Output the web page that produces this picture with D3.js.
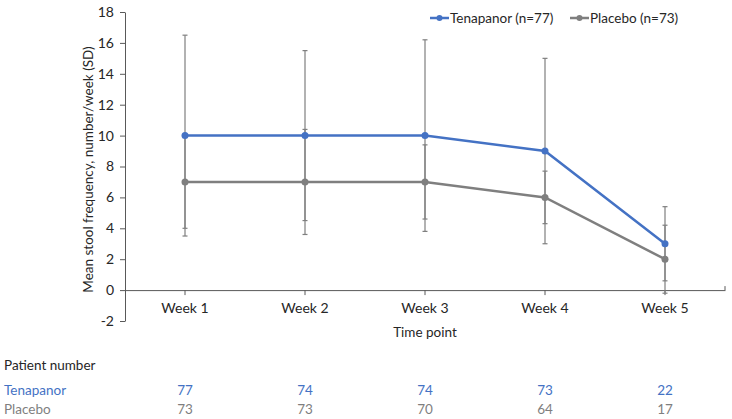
<!DOCTYPE html>
<html>
<head>
<meta charset="utf-8">
<script src="https://cdn.jsdelivr.net/npm/d3@7/dist/d3.min.js"></script>
<style>
  html, body { margin: 0; padding: 0; background: #fff; }
  svg { display: block; }
  text { font-family: Lato, "Open Sans", sans-serif; }
</style>
</head>
<body>
<svg id="chart" width="732" height="419"></svg>
<script>
const categories = ["Week 1", "Week 2", "Week 3", "Week 4", "Week 5"];
const tenapanorMean = [10, 10, 10, 9, 3];
const tenapanorSD = [6.5, 5.5, 6.2, 6.0, 2.4];
const placeboMean = [7, 7, 7, 6, 2];
const placeboSD = [3.0, 3.4, 2.4, 1.7, 2.2];
const tenapanorN = [77, 74, 74, 73, 22];
const placeboN = [73, 73, 70, 64, 17];
const yTicks = [-2, 0, 2, 4, 6, 8, 10, 12, 14, 16, 18];
const seriesNames = ["Tenapanor (n=77)", "Placebo (n=73)"];

const blue = "#4472c4";
const gray = "#7f7f7f";
const textColor = "#262626";

const svg = d3.select("#chart");
const mLeft = 125, mRight = 725, mTop = 12, mBottom = 321;

const x = d3.scaleBand().domain(categories).range([mLeft, mRight]);
const y = d3.scaleLinear().domain([-2, 18]).range([mBottom, mTop]);
const cx = d => x(d) + x.bandwidth() / 2;

// Y axis
const yAxis = d3.axisLeft(y).tickValues(yTicks).tickFormat(d => String(d)).tickSize(5).tickSizeOuter(0);
const yg = svg.append("g").attr("transform", `translate(${mLeft},0)`).call(yAxis);
yg.select(".domain").attr("stroke", "#595959");
yg.selectAll(".tick line").attr("stroke", "#595959");
yg.selectAll(".tick text").attr("fill", textColor).attr("font-size", 14).attr("x", -11);

// X axis at y=0
const xAxis = d3.axisBottom(x).tickSize(5).tickSizeOuter(0);
const xg = svg.append("g").attr("transform", `translate(0,${y(0)})`).call(xAxis);
xg.select(".domain").attr("stroke", "#595959");
xg.selectAll(".tick line").attr("stroke", "#595959");
xg.selectAll(".tick text").attr("fill", textColor).attr("font-size", 14).attr("dy", "1.05em");
xg.append("line").attr("x1", mRight).attr("x2", mRight).attr("y1", 0).attr("y2", -4).attr("stroke", "#595959");

// Axis titles
svg.append("text")
  .attr("transform", `translate(93,${(mTop + mBottom) / 2 + 3}) rotate(-90)`)
  .attr("text-anchor", "middle").attr("font-size", 13.5).attr("fill", textColor)
  .text("Mean stool frequency, number/week (SD)");
svg.append("text").attr("x", (mLeft + mRight) / 2).attr("y", 337)
  .attr("text-anchor", "middle").attr("font-size", 13.5).attr("fill", textColor)
  .text("Time point");

const series = [
  { name: seriesNames[0], mean: tenapanorMean, sd: tenapanorSD, color: blue },
  { name: seriesNames[1], mean: placeboMean, sd: placeboSD, color: gray }
];

// Error bars
series.forEach(s => {
  const g = svg.append("g");
  categories.forEach((c, i) => {
    const hi = s.mean[i] + s.sd[i], lo = s.mean[i] - s.sd[i];
    g.append("line").attr("x1", cx(c)).attr("x2", cx(c))
      .attr("y1", y(hi)).attr("y2", y(lo)).attr("stroke", gray).attr("stroke-width", 1.2);
    [hi, lo].forEach(v => {
      g.append("line").attr("x1", cx(c) - 2.5).attr("x2", cx(c) + 2.5)
        .attr("y1", y(v)).attr("y2", y(v)).attr("stroke", gray).attr("stroke-width", 1.2);
    });
  });
});

// Lines + markers (placebo first, tenapanor on top)
[series[1], series[0]].forEach(s => {
  const line = d3.line().x((d, i) => cx(categories[i])).y(d => y(d));
  svg.append("path").datum(s.mean).attr("d", line)
    .attr("fill", "none").attr("stroke", s.color).attr("stroke-width", 2.5);
  svg.selectAll(null).data(s.mean).enter().append("circle")
    .attr("cx", (d, i) => cx(categories[i])).attr("cy", d => y(d))
    .attr("r", 3.5).attr("fill", s.color);
});

// Legend
const legendItems = [{ x: 430, s: series[0] }, { x: 570, s: series[1] }];
legendItems.forEach(li => {
  svg.append("line").attr("x1", li.x).attr("x2", li.x + 19).attr("y1", 18).attr("y2", 18)
    .attr("stroke", li.s.color).attr("stroke-width", 2.5);
  svg.append("circle").attr("cx", li.x + 9.5).attr("cy", 18).attr("r", 3).attr("fill", li.s.color);
  svg.append("text").attr("x", li.x + 20).attr("y", 23).attr("font-size", 13.5)
    .attr("fill", textColor).text(li.s.name);
});

// Patient number table
svg.append("text").attr("x", 4).attr("y", 370).attr("font-size", 13.5).attr("fill", textColor)
  .text("Patient number");
const rows = [
  { label: "Tenapanor", vals: tenapanorN, color: blue, y: 395 },
  { label: "Placebo", vals: placeboN, color: gray, y: 414 }
];
rows.forEach(r => {
  svg.append("text").attr("x", 4).attr("y", r.y).attr("font-size", 13.5).attr("fill", r.color).text(r.label);
  svg.selectAll(null).data(r.vals).enter().append("text")
    .attr("x", (d, i) => cx(categories[i])).attr("y", r.y)
    .attr("text-anchor", "middle").attr("font-size", 13.5).attr("fill", r.color)
    .text(d => d);
});
</script>
</body>
</html>
